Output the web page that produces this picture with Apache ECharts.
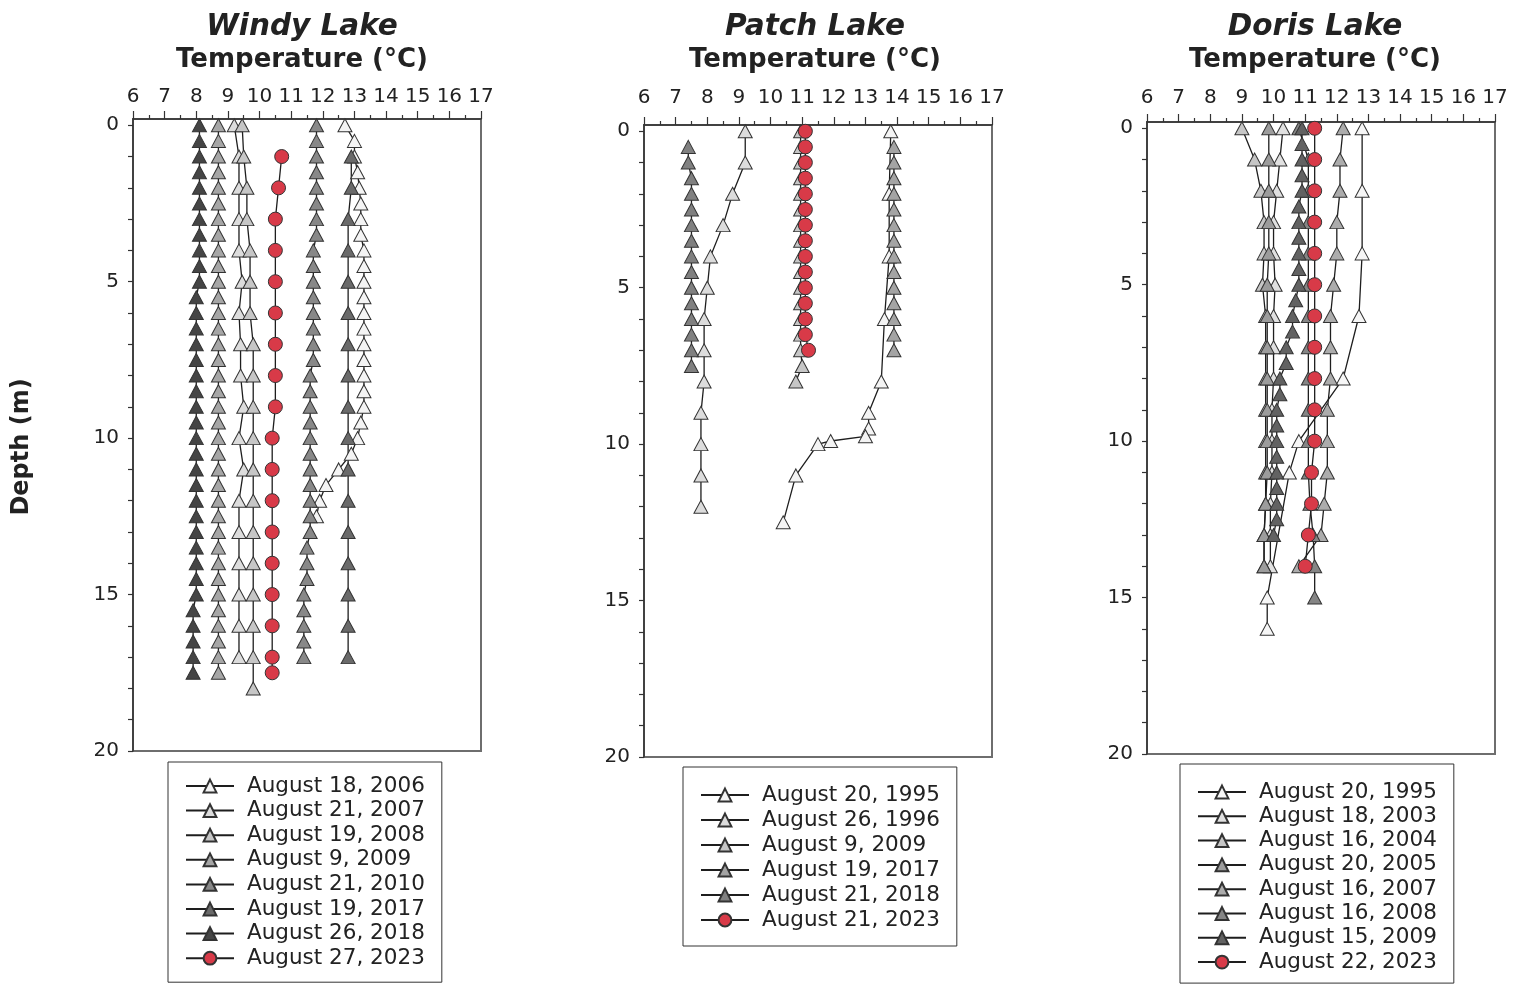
<!DOCTYPE html>
<html>
<head>
<meta charset="utf-8">
<title>Lake temperature profiles</title>
<script src="https://cdn.jsdelivr.net/npm/echarts@6/dist/echarts.min.js"></script>
<style>
  html, body { margin: 0; padding: 0; background: #ffffff; }
  #chart { width: 1514px; height: 985px; }
</style>
</head>
<body>
<div id="chart"></div>
<script>
// ---------- axis ticks ----------
const tempTicks = [6, 7, 8, 9, 10, 11, 12, 13, 14, 15, 16, 17];
const depthTicks = [0, 1, 2, 3, 4, 5, 6, 7, 8, 9, 10, 11, 12, 13, 14, 15, 16, 17, 18, 19, 20];
const depthLabels = [0, 5, 10, 15, 20];

// ---------- Windy Lake ----------
const windyDepth2006 = [0, 0.5, 1, 1.5, 2, 2.5, 3, 3.5, 4, 4.5, 5, 5.5, 6, 6.5, 7, 7.5, 8, 8.5, 9, 9.5, 10, 10.5, 11, 11.5, 12, 12.5];
const windyTemp2006  = [12.7, 13.0, 13.0, 13.1, 13.15, 13.2, 13.2, 13.2, 13.3, 13.3, 13.3, 13.3, 13.3, 13.3, 13.3, 13.3, 13.3, 13.3, 13.3, 13.2, 13.1, 12.9, 12.5, 12.1, 11.9, 11.8];
const windyDepth2007 = [0, 1, 2, 3, 4, 5, 6, 7, 8, 9, 10, 11, 12, 13, 14, 15, 16, 17];
const windyTemp2007  = [9.2, 9.35, 9.35, 9.35, 9.35, 9.45, 9.35, 9.4, 9.4, 9.5, 9.35, 9.5, 9.35, 9.35, 9.35, 9.35, 9.35, 9.35];
const windyDepth2008 = [0, 1, 2, 3, 4, 5, 6, 7, 8, 9, 10, 11, 12, 13, 14, 15, 16, 17, 18];
const windyTemp2008  = [9.45, 9.5, 9.6, 9.6, 9.7, 9.7, 9.7, 9.8, 9.8, 9.8, 9.8, 9.8, 9.8, 9.8, 9.8, 9.8, 9.8, 9.8, 9.8];
const windyDepth2009 = [0, 0.5, 1, 1.5, 2, 2.5, 3, 3.5, 4, 4.5, 5, 5.5, 6, 6.5, 7, 7.5, 8, 8.5, 9, 9.5, 10, 10.5, 11, 11.5, 12, 12.5, 13, 13.5, 14, 14.5, 15, 15.5, 16, 16.5, 17, 17.5];
const windyTemp2009  = [8.7, 8.7, 8.7, 8.7, 8.7, 8.7, 8.7, 8.7, 8.7, 8.7, 8.7, 8.7, 8.7, 8.7, 8.7, 8.7, 8.7, 8.7, 8.7, 8.7, 8.7, 8.7, 8.7, 8.7, 8.7, 8.7, 8.7, 8.7, 8.7, 8.7, 8.7, 8.7, 8.7, 8.7, 8.7, 8.7];
const windyDepth2010 = [0, 0.5, 1, 1.5, 2, 2.5, 3, 3.5, 4, 4.5, 5, 5.5, 6, 6.5, 7, 7.5, 8, 8.5, 9, 9.5, 10, 10.5, 11, 11.5, 12, 12.5, 13, 13.5, 14, 14.5, 15, 15.5, 16, 16.5, 17];
const windyTemp2010  = [11.8, 11.8, 11.8, 11.8, 11.8, 11.8, 11.8, 11.8, 11.7, 11.7, 11.7, 11.7, 11.7, 11.7, 11.7, 11.7, 11.6, 11.6, 11.6, 11.6, 11.6, 11.6, 11.6, 11.6, 11.6, 11.6, 11.6, 11.5, 11.5, 11.5, 11.4, 11.4, 11.4, 11.4, 11.4];
const windyDepth2017 = [1, 2, 3, 4, 5, 6, 7, 8, 9, 10, 11, 12, 13, 14, 15, 16, 17];
const windyTemp2017  = [12.9, 12.9, 12.8, 12.8, 12.8, 12.8, 12.8, 12.8, 12.8, 12.8, 12.8, 12.8, 12.8, 12.8, 12.8, 12.8, 12.8];
const windyDepth2018 = [0, 0.5, 1, 1.5, 2, 2.5, 3, 3.5, 4, 4.5, 5, 5.5, 6, 6.5, 7, 7.5, 8, 8.5, 9, 9.5, 10, 10.5, 11, 11.5, 12, 12.5, 13, 13.5, 14, 14.5, 15, 15.5, 16, 16.5, 17, 17.5];
const windyTemp2018  = [8.1, 8.1, 8.1, 8.1, 8.1, 8.1, 8.1, 8.1, 8.1, 8.1, 8.1, 8.0, 8.0, 8.0, 8.0, 8.0, 8.0, 8.0, 8.0, 8.0, 8.0, 8.0, 8.0, 8.0, 8.0, 8.0, 8.0, 8.0, 8.0, 8.0, 8.0, 7.9, 7.9, 7.9, 7.9, 7.9];
const windyDepth2023 = [1, 2, 3, 4, 5, 6, 7, 8, 9, 10, 11, 12, 13, 14, 15, 16, 17, 17.5];
const windyTemp2023  = [10.7, 10.6, 10.5, 10.5, 10.5, 10.5, 10.5, 10.5, 10.5, 10.4, 10.4, 10.4, 10.4, 10.4, 10.4, 10.4, 10.4, 10.4];

// ---------- Patch Lake ----------
const patchDepth1995 = [0, 2, 4, 6, 8, 9, 9.5, 9.75, 9.9, 10, 11, 12.5];
const patchTemp1995  = [13.8, 13.75, 13.75, 13.6, 13.5, 13.1, 13.1, 13.0, 11.9, 11.5, 10.8, 10.4];
const patchDepth1996 = [0, 1, 2, 3, 4, 5, 6, 7, 8, 9, 10, 11, 12];
const patchTemp1996  = [9.2, 9.2, 8.8, 8.5, 8.1, 8.0, 7.9, 7.9, 7.9, 7.8, 7.8, 7.8, 7.8];
const patchDepth2009 = [0, 0.5, 1, 1.5, 2, 2.5, 3, 3.5, 4, 4.5, 5, 5.5, 6, 6.5, 7, 7.5, 8];
const patchTemp2009  = [10.95, 10.95, 10.95, 10.95, 10.95, 10.95, 10.95, 10.95, 10.95, 10.95, 10.95, 10.95, 10.95, 10.95, 10.95, 11.0, 10.8];
const patchDepth2017 = [0.5, 1, 1.5, 2, 2.5, 3, 3.5, 4, 4.5, 5, 5.5, 6, 6.5, 7];
const patchTemp2017  = [13.9, 13.9, 13.9, 13.9, 13.9, 13.9, 13.9, 13.9, 13.9, 13.9, 13.9, 13.9, 13.9, 13.9];
const patchDepth2018 = [0.5, 1, 1.5, 2, 2.5, 3, 3.5, 4, 4.5, 5, 5.5, 6, 6.5, 7, 7.5];
const patchTemp2018  = [7.4, 7.4, 7.5, 7.5, 7.5, 7.5, 7.5, 7.5, 7.5, 7.5, 7.5, 7.5, 7.5, 7.5, 7.5];
const patchDepth2023 = [0, 0.5, 1, 1.5, 2, 2.5, 3, 3.5, 4, 4.5, 5, 5.5, 6, 6.5, 7];
const patchTemp2023  = [11.1, 11.1, 11.1, 11.1, 11.1, 11.1, 11.1, 11.1, 11.1, 11.1, 11.1, 11.1, 11.1, 11.1, 11.2];

// ---------- Doris Lake ----------
const dorisDepth1995 = [0, 2, 4, 6, 8, 10, 11, 15, 16];
const dorisTemp1995  = [12.8, 12.8, 12.8, 12.7, 12.2, 10.8, 10.5, 9.8, 9.8];
const dorisDepth2003 = [0, 1, 2, 3, 4, 5, 6, 7, 8, 9, 10, 11, 12, 13, 14];
const dorisTemp2003  = [10.3, 10.2, 10.1, 10.0, 10.0, 10.05, 10.0, 10.0, 10.0, 9.95, 9.95, 9.95, 9.9, 9.9, 9.9];
const dorisDepth2004 = [0, 1, 2, 3, 4, 5, 6, 7, 8, 9, 10, 11, 12, 13, 14];
const dorisTemp2004  = [9.0, 9.4, 9.6, 9.7, 9.7, 9.65, 9.75, 9.75, 9.75, 9.75, 9.75, 9.75, 9.75, 9.7, 9.7];
const dorisDepth2005 = [0, 1, 2, 3, 4, 5, 6, 7, 8, 9, 10, 11, 12, 13, 14];
const dorisTemp2005  = [9.85, 9.85, 9.85, 9.85, 9.85, 9.8, 9.8, 9.8, 9.8, 9.8, 9.8, 9.8, 9.75, 9.7, 9.7];
const dorisDepth2007 = [0, 1, 2, 3, 4, 5, 6, 7, 8, 9, 10, 11, 12, 13, 14];
const dorisTemp2007  = [12.2, 12.1, 12.1, 12.0, 12.0, 11.9, 11.8, 11.8, 11.8, 11.7, 11.7, 11.7, 11.6, 11.5, 10.8];
const dorisDepth2008 = [0, 1, 2, 3, 4, 5, 6, 7, 8, 9, 10, 11, 12, 13, 14, 15];
const dorisTemp2008  = [10.8, 11.1, 11.1, 11.1, 11.1, 11.1, 11.1, 11.1, 11.1, 11.1, 11.1, 11.1, 11.15, 11.25, 11.3, 11.3];
const dorisDepth2009 = [0, 0.5, 1, 1.5, 2, 2.5, 3, 3.5, 4, 4.5, 5, 5.5, 6, 6.5, 7, 7.5, 8, 8.5, 9, 9.5, 10, 10.5, 11, 11.5, 12, 12.5, 13];
const dorisTemp2009  = [10.9, 10.9, 10.9, 10.9, 10.9, 10.8, 10.8, 10.8, 10.8, 10.8, 10.8, 10.7, 10.6, 10.6, 10.4, 10.4, 10.2, 10.2, 10.1, 10.1, 10.1, 10.1, 10.1, 10.1, 10.1, 10.1, 10.0];
const dorisDepth2023 = [0, 1, 2, 3, 4, 5, 6, 7, 8, 9, 10, 11, 12, 13, 14];
const dorisTemp2023  = [11.3, 11.3, 11.3, 11.3, 11.3, 11.3, 11.3, 11.3, 11.3, 11.3, 11.3, 11.2, 11.2, 11.1, 11.0];

// ---------- styling ----------
const FONT = '"DejaVu Sans", Verdana, sans-serif';
const INK = '#222222';
const RED = '#d83a48';

const panels = [
  {
    lake: 'Windy Lake', cx: 302, labelMargin: 12,
    grid: { left: 133, top: 119, width: 348, height: 632 },
    legend: { left: 168, top: 762, padding: [13, 17, 13, 17], itemGap: 2.6 },
    profiles: [
      { label: 'August 18, 2006', depth: windyDepth2006, temp: windyTemp2006, fill: '#f4f4f4' },
      { label: 'August 21, 2007', depth: windyDepth2007, temp: windyTemp2007, fill: '#dcdcdc' },
      { label: 'August 19, 2008', depth: windyDepth2008, temp: windyTemp2008, fill: '#c6c6c6' },
      { label: 'August 9, 2009',  depth: windyDepth2009, temp: windyTemp2009, fill: '#a6a6a6' },
      { label: 'August 21, 2010', depth: windyDepth2010, temp: windyTemp2010, fill: '#888888' },
      { label: 'August 19, 2017', depth: windyDepth2017, temp: windyTemp2017, fill: '#6a6a6a' },
      { label: 'August 26, 2018', depth: windyDepth2018, temp: windyTemp2018, fill: '#454545' },
      { label: 'August 27, 2023', depth: windyDepth2023, temp: windyTemp2023, fill: RED, circle: true }
    ]
  },
  {
    lake: 'Patch Lake', cx: 815, labelMargin: 17,
    grid: { left: 644, top: 125, width: 348, height: 632 },
    legend: { left: 683, top: 767, padding: [17, 17, 15, 17], itemGap: 3 },
    profiles: [
      { label: 'August 20, 1995', depth: patchDepth1995, temp: patchTemp1995, fill: '#f4f4f4' },
      { label: 'August 26, 1996', depth: patchDepth1996, temp: patchTemp1996, fill: '#dcdcdc' },
      { label: 'August 9, 2009',  depth: patchDepth2009, temp: patchTemp2009, fill: '#c6c6c6' },
      { label: 'August 19, 2017', depth: patchDepth2017, temp: patchTemp2017, fill: '#a4a4a4' },
      { label: 'August 21, 2018', depth: patchDepth2018, temp: patchTemp2018, fill: '#808080' },
      { label: 'August 21, 2023', depth: patchDepth2023, temp: patchTemp2023, fill: RED, circle: true }
    ]
  },
  {
    lake: 'Doris Lake', cx: 1315, labelMargin: 14.5,
    grid: { left: 1147, top: 122, width: 348, height: 632 },
    legend: { left: 1180, top: 764, padding: [17, 17, 10, 17], itemGap: 2.3 },
    profiles: [
      { label: 'August 20, 1995', depth: dorisDepth1995, temp: dorisTemp1995, fill: '#f6f6f6' },
      { label: 'August 18, 2003', depth: dorisDepth2003, temp: dorisTemp2003, fill: '#e0e0e0' },
      { label: 'August 16, 2004', depth: dorisDepth2004, temp: dorisTemp2004, fill: '#c6c6c6' },
      { label: 'August 20, 2005', depth: dorisDepth2005, temp: dorisTemp2005, fill: '#9c9c9c' },
      { label: 'August 16, 2007', depth: dorisDepth2007, temp: dorisTemp2007, fill: '#acacac' },
      { label: 'August 16, 2008', depth: dorisDepth2008, temp: dorisTemp2008, fill: '#858585' },
      { label: 'August 15, 2009', depth: dorisDepth2009, temp: dorisTemp2009, fill: '#626262' },
      { label: 'August 22, 2023', depth: dorisDepth2023, temp: dorisTemp2023, fill: RED, circle: true }
    ]
  }
];

const grids = [], xAxes = [], yAxes = [], legends = [], series = [], texts = [];

panels.forEach((p, i) => {
  grids.push(Object.assign({
    show: true, borderColor: '#6e6e6e', borderWidth: 2, backgroundColor: 'transparent'
  }, p.grid));

  xAxes.push({
    gridIndex: i, type: 'value', position: 'top',
    min: tempTicks[0], max: tempTicks[tempTicks.length - 1], interval: 1,
    axisLine: { show: true, onZero: false, lineStyle: { color: '#333', width: 1.5 } },
    axisTick: { show: true, inside: false, length: 8, lineStyle: { color: '#333', width: 1.2 } },
    minorTick: { show: true, splitNumber: 2, length: 4, lineStyle: { color: '#333', width: 1.2 } },
    axisLabel: { fontSize: 20, fontFamily: FONT, color: INK, margin: p.labelMargin, showMinLabel: true, showMaxLabel: true },
    splitLine: { show: false }, minorSplitLine: { show: false }
  });

  yAxes.push({
    gridIndex: i, type: 'value', inverse: true, min: -0.2, max: 20,
    axisLine: { show: true, onZero: false, lineStyle: { color: '#333', width: 1.5 } },
    axisTick: { show: true, inside: false, length: 5, customValues: depthTicks, lineStyle: { color: '#333', width: 1.2 } },
    axisLabel: { customValues: depthLabels, fontSize: 20, fontFamily: FONT, color: INK, margin: 14 },
    splitLine: { show: false }
  });

  const names = [];
  p.profiles.forEach(pr => {
    const key = p.lake + '|' + pr.label;
    names.push(key);
    series.push({
      name: key, type: 'line', xAxisIndex: i, yAxisIndex: i,
      data: pr.temp.map((t, k) => [t, pr.depth[k]]),
      symbol: pr.circle ? 'circle' : 'triangle',
      symbolSize: pr.circle ? 14 : [14, 13],
      showAllSymbol: true,
      itemStyle: { color: pr.fill, borderColor: '#333', borderWidth: 1, opacity: 1 },
      lineStyle: { color: '#1e1e1e', width: 1.3 },
      emphasis: { disabled: true },
      animation: false, clip: false
    });
  });

  legends.push({
    orient: 'vertical', left: p.legend.left, top: p.legend.top, height: 400,
    padding: p.legend.padding, itemGap: p.legend.itemGap,
    itemWidth: 48, itemHeight: 16,
    borderColor: '#333', borderWidth: 1, backgroundColor: '#fff',
    selectedMode: false,
    data: names,
    formatter: n => n.split('|')[1],
    textStyle: { fontSize: 21.5, fontFamily: FONT, color: INK, lineHeight: 22, padding: [0, 0, 0, 8] }
  });

  texts.push({
    type: 'text', x: p.cx, y: 27,
    style: { text: p.lake, fill: INK, font: 'italic bold 29.5px ' + FONT, align: 'center', verticalAlign: 'middle' }
  });
  texts.push({
    type: 'text', x: p.cx, y: 60,
    style: { text: 'Temperature (°C)', fill: INK, font: 'bold 26px ' + FONT, align: 'center', verticalAlign: 'middle' }
  });
});

texts.push({
  type: 'text', x: 22, y: 447, rotation: Math.PI / 2,
  style: { text: 'Depth (m)', fill: INK, font: 'bold 24px ' + FONT, align: 'center', verticalAlign: 'middle' }
});

const chart = echarts.init(document.getElementById('chart'), null, { renderer: 'canvas' });
chart.setOption({
  backgroundColor: '#ffffff',
  animation: false,
  grid: grids,
  xAxis: xAxes,
  yAxis: yAxes,
  legend: legends,
  series: series,
  graphic: texts
});
</script>
</body>
</html>
